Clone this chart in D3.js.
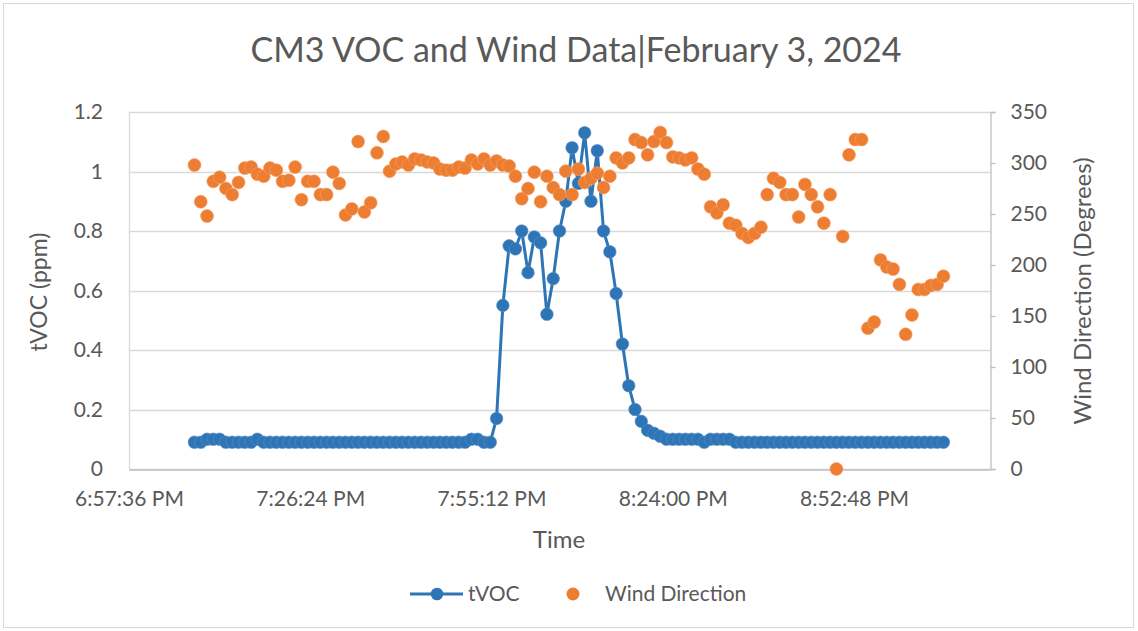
<!DOCTYPE html>
<html>
<head>
<meta charset="utf-8">
<script src="https://cdn.jsdelivr.net/npm/d3@7/dist/d3.min.js"></script>
<style>
  html, body { margin: 0; padding: 0; background: #ffffff; }
  svg text { font-family: "Lato", "Open Sans", sans-serif; fill: #595959; }
</style>
</head>
<body>
<svg id="chart" width="1138" height="631"></svg>
<script>
// ---------------- data ----------------
const chartTitle = "CM3 VOC and Wind Data|February 3, 2024";
const firstReading = new Date(2024, 1, 3, 19, 8, 0);   // one reading per minute
const axisStart = new Date(2024, 1, 3, 18, 57, 36);
const axisEnd = new Date(2024, 1, 3, 21, 14, 24);
const xTickTimes = ["18:57:36", "19:26:24", "19:55:12", "20:24:00", "20:52:48"];
const vocTicks = [0, 0.2, 0.4, 0.6, 0.8, 1.0, 1.2];
const windTicks = [0, 50, 100, 150, 200, 250, 300, 350];

const tVOC = [
  0.09, 0.09, 0.10, 0.10, 0.10, 0.09, 0.09, 0.09, 0.09, 0.09,
  0.10, 0.09, 0.09, 0.09, 0.09, 0.09, 0.09, 0.09, 0.09, 0.09,
  0.09, 0.09, 0.09, 0.09, 0.09, 0.09, 0.09, 0.09, 0.09, 0.09,
  0.09, 0.09, 0.09, 0.09, 0.09, 0.09, 0.09, 0.09, 0.09, 0.09,
  0.09, 0.09, 0.09, 0.09, 0.10, 0.10, 0.09, 0.09, 0.17, 0.55,
  0.75, 0.74, 0.80, 0.66, 0.78, 0.76, 0.52, 0.64, 0.80, 0.90,
  1.08, 0.96, 1.13, 0.90, 1.07, 0.80, 0.73, 0.59, 0.42, 0.28,
  0.20, 0.16, 0.13, 0.12, 0.11, 0.10, 0.10, 0.10, 0.10, 0.10,
  0.10, 0.09, 0.10, 0.10, 0.10, 0.10, 0.09, 0.09, 0.09, 0.09,
  0.09, 0.09, 0.09, 0.09, 0.09, 0.09, 0.09, 0.09, 0.09, 0.09,
  0.09, 0.09, 0.09, 0.09, 0.09, 0.09, 0.09, 0.09, 0.09, 0.09,
  0.09, 0.09, 0.09, 0.09, 0.09, 0.09, 0.09, 0.09, 0.09, 0.09
];

const windDirection = [
  298, 262, 248, 282, 286, 275, 269, 281, 295, 296,
  289, 287, 295, 293, 282, 283, 296, 264, 282, 282,
  269, 269, 291, 280, 249, 255, 321, 252, 261, 310,
  326, 292, 299, 301, 298, 304, 303, 301, 300, 294,
  293, 293, 296, 295, 303, 299, 304, 298, 302, 298,
  297, 287, 265, 275, 291, 262, 287, 276, 269, 292,
  269, 294, 281, 285, 290, 276, 287, 305, 300, 305,
  323, 320, 308, 321, 330, 320, 306, 305, 303, 305,
  294, 289, 257, 251, 259, 241, 239, 231, 227, 231,
  237, 269, 285, 281, 269, 269, 247, 279, 269, 257,
  241, 269, 0, 228, 308, 323, 323, 138, 144, 205,
  198, 196, 181, 132, 151, 176, 176, 180, 181, 189
];

// ---------------- setup ----------------
const BLUE = "#2E75B6", ORANGE = "#ED7D31";
const svg = d3.select("#chart");
const plot = { left: 129, right: 990, top: 112, bottom: 469 };

const times = tVOC.map((_, i) => d3.timeMinute.offset(firstReading, i));
const parseT = d3.timeParse("%H:%M:%S");
const tickDates = xTickTimes.map(s => {
  const t = parseT(s);
  return new Date(2024, 1, 3, t.getHours(), t.getMinutes(), t.getSeconds());
});

const x = d3.scaleTime().domain([axisStart, axisEnd]).range([plot.left, plot.right]);
const yL = d3.scaleLinear().domain([0, 1.2]).range([plot.bottom, plot.top]);
const yR = d3.scaleLinear().domain([0, 350]).range([plot.bottom, plot.top]);

// chart border
svg.append("rect").attr("x", 3.5).attr("y", 3.5).attr("width", 1130).attr("height", 624)
  .attr("fill", "#fff").attr("stroke", "#d9d9d9").attr("stroke-width", 1);

// gridlines
svg.append("g").selectAll("line").data(vocTicks).join("line")
  .attr("x1", plot.left).attr("x2", plot.right)
  .attr("y1", d => Math.round(yL(d)) + 0.5).attr("y2", d => Math.round(yL(d)) + 0.5)
  .attr("stroke", "#d9d9d9").attr("stroke-width", 1.3);

// left plot edge
svg.append("line").attr("x1", plot.left + 0.5).attr("x2", plot.left + 0.5)
  .attr("y1", plot.top).attr("y2", plot.bottom).attr("stroke", "#d9d9d9").attr("stroke-width", 1.3);

// left axis
const gL = svg.append("g").attr("transform", `translate(${plot.left},0)`)
  .call(d3.axisLeft(yL).tickValues(vocTicks).tickSize(0).tickPadding(26)
    .tickFormat(d => d === 0 ? "0" : (d === 1 ? "1" : d3.format(".1f")(d))));
gL.select(".domain").remove();
gL.selectAll("text").style("font-size", "21px").attr("fill", "#595959");

// right axis
const gR = svg.append("g").attr("transform", `translate(${plot.right + 0.5},0)`)
  .call(d3.axisRight(yR).tickValues(windTicks).tickSize(5).tickPadding(15));
gR.select(".domain").attr("stroke", "#bfbfbf").attr("stroke-width", 1.3);
gR.selectAll(".tick line").attr("stroke", "#bfbfbf").attr("stroke-width", 1.3);
gR.selectAll("text").style("font-size", "21px").attr("fill", "#595959");

// bottom axis
const gB = svg.append("g").attr("transform", `translate(0,${plot.bottom + 0.5})`)
  .call(d3.axisBottom(x).tickValues(tickDates).tickSize(0).tickPadding(22)
    .tickFormat(d3.timeFormat("%-I:%M:%S %p")));
gB.select(".domain").attr("stroke", "#bfbfbf").attr("stroke-width", 1.3);
gB.selectAll("text").style("font-size", "21px").attr("fill", "#595959");

// tVOC line + markers
const line = d3.line().x((d, i) => x(times[i])).y(d => yL(d));
svg.append("path").datum(tVOC).attr("d", line)
  .attr("fill", "none").attr("stroke", BLUE).attr("stroke-width", 3).attr("stroke-linejoin", "round");
svg.append("g").selectAll("circle").data(tVOC).join("circle")
  .attr("cx", (d, i) => x(times[i])).attr("cy", d => yL(d)).attr("r", 6.3)
  .attr("fill", BLUE).attr("stroke", "#5b8fc7").attr("stroke-width", 0.6);

// wind markers
svg.append("g").selectAll("circle").data(windDirection).join("circle")
  .attr("cx", (d, i) => x(times[i])).attr("cy", d => yR(d)).attr("r", 6.5)
  .attr("fill", ORANGE).attr("stroke", "#f3a26e").attr("stroke-width", 0.6);

// titles
svg.append("text").attr("x", 576).attr("y", 62).attr("text-anchor", "middle")
  .style("font-size", "34px").text(chartTitle);
svg.append("text").attr("transform", "translate(47,292) rotate(-90)").attr("text-anchor", "middle")
  .style("font-size", "23px").text("tVOC (ppm)");
svg.append("text").attr("transform", "translate(1091,291) rotate(-90)").attr("text-anchor", "middle")
  .style("font-size", "24px").text("Wind Direction (Degrees)");
svg.append("text").attr("x", 559).attr("y", 548).attr("text-anchor", "middle")
  .style("font-size", "24px").text("Time");

// legend
const lg = svg.append("g");
lg.append("line").attr("x1", 410).attr("x2", 463).attr("y1", 594).attr("y2", 594)
  .attr("stroke", BLUE).attr("stroke-width", 3);
lg.append("circle").attr("cx", 437).attr("cy", 594).attr("r", 6.3).attr("fill", BLUE);
lg.append("text").attr("x", 468).attr("y", 601).style("font-size", "21px").text("tVOC");
lg.append("circle").attr("cx", 573).attr("cy", 594).attr("r", 6.5).attr("fill", ORANGE);
lg.append("text").attr("x", 605).attr("y", 601).style("font-size", "21px").text("Wind Direction");
</script>
</body>
</html>
